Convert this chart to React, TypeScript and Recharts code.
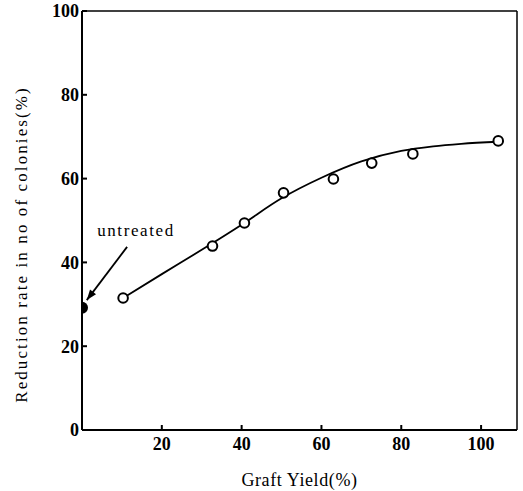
import { ComposedChart, Line, Scatter, XAxis, YAxis, ReferenceLine, ReferenceDot, Label } from "recharts";

// measured points (graft yield %, reduction rate %)
const graftYield = [10.3, 32.7, 40.7, 50.5, 63, 72.6, 82.9, 104.3];
const reduction = [31.5, 43.9, 49.4, 56.6, 59.9, 63.7, 65.9, 69];

// hand-drawn fit curve
const fitX = [10.3, 20, 30, 40, 50, 60, 70, 80, 88, 95, 104.3];
const fitY = [31.5, 37.2, 43, 49, 55.3, 60.2, 64.1, 66.6, 67.7, 68.3, 68.8];

const untreatedX = [0];
const untreatedY = [29.2];

const xTicks = [20, 40, 60, 80, 100];
const yTicks = [0, 20, 40, 60, 80, 100];

const measured = graftYield.map((x, i) => ({ x, y: reduction[i] }));
const fit = fitX.map((x, i) => ({ x, y: fitY[i] }));
const untreated = untreatedX.map((x, i) => ({ x, y: untreatedY[i] }));

const font = "'Liberation Serif', 'DejaVu Serif', serif";

function Arrow(props: any) {
  const { x1, y1, x2, y2 } = props;
  if (x1 == null) return null;
  const ang = Math.atan2(y2 - y1, x2 - x1);
  const len = 11;
  const w = 0.35;
  const p1 = `${x2 - len * Math.cos(ang - w)},${y2 - len * Math.sin(ang - w)}`;
  const p2 = `${x2 - len * Math.cos(ang + w)},${y2 - len * Math.sin(ang + w)}`;
  return (
    <g>
      <line x1={x1} y1={y1} x2={x2} y2={y2} stroke="#000" strokeWidth={1.8} />
      <polygon points={`${x2},${y2} ${p1} ${p2}`} fill="#000" />
    </g>
  );
}

function YTitle(props: any) {
  const vb = props.viewBox || { x: 0, y: 11, width: 82, height: 419 };
  // the axis box is 82px wide; the title sits near its left edge
  const cx = vb.width > 20 ? vb.x + 21 : vb.x - 61;
  const cy = vb.y + vb.height / 2 + 24;
  return (
    <text
      x={cx}
      y={cy}
      transform={`rotate(-90, ${cx}, ${cy})`}
      textAnchor="middle"
      dominantBaseline="central"
      fill="#000"
      fontSize={17}
      fontFamily={font}
      letterSpacing={2.1}
    >
      Reduction rate in no of colonies(%)
    </text>
  );
}

export default function App() {
  return (
    <div style={{ position: "absolute", left: 0, top: 0, background: "#fff" }}>
      <ComposedChart width={523} height={491} margin={{ top: 11, right: 6, bottom: 0, left: 0 }}>
        <XAxis
          type="number"
          dataKey="x"
          domain={[0, 109]}
          ticks={xTicks}
          height={61}
          allowDataOverflow
          stroke="#000"
          strokeWidth={2}
          tickSize={-5}
          tickMargin={12}
          tick={{ fill: "#000", fontSize: 18, fontFamily: font, fontWeight: "bold" }}
        >
          <Label
            value="Graft Yield(%)"
            position="insideBottom"
            offset={5}
            fill="#000"
            fontSize={18}
            fontFamily={font}
            letterSpacing={0.6}
          />
        </XAxis>
        <YAxis
          type="number"
          dataKey="y"
          domain={[0, 100]}
          ticks={yTicks}
          width={82}
          stroke="#000"
          strokeWidth={2}
          tickSize={-5}
          tickMargin={8}
          tick={{ fill: "#000", fontSize: 18, fontFamily: font, fontWeight: "bold" }}
        >
          <Label content={YTitle} />
        </YAxis>
        <ReferenceLine y={100} stroke="#000" strokeWidth={1.5} />
        <ReferenceLine x={109} stroke="#000" strokeWidth={1.5} />
        <Line
          data={fit}
          dataKey="y"
          type="monotone"
          stroke="#000"
          strokeWidth={1.8}
          dot={false}
          isAnimationActive={false}
        />
        <Scatter
          data={measured}
          dataKey="y"
          fill="#fff"
          stroke="#000"
          strokeWidth={2}
          shape={(p: any) => <circle cx={p.cx} cy={p.cy} r={4.8} fill="#fff" stroke="#000" strokeWidth={2} />}
          isAnimationActive={false}
        />
        <Scatter
          data={untreated}
          dataKey="y"
          fill="#000"
          shape={(p: any) => <circle cx={p.cx} cy={p.cy} r={6} fill="#000" />}
          isAnimationActive={false}
        />
        <ReferenceLine
          segment={[{ x: 11.3, y: 43.7 }, { x: 1.2, y: 31 }]}
          shape={Arrow}
          ifOverflow="visible"
        />
        <ReferenceDot x={3.8} y={47.8} r={0} ifOverflow="visible">
          <Label
            value="untreated"
            position="right"
            offset={0}
            fill="#000"
            fontSize={17}
            fontFamily={font}
            letterSpacing={1.6}
          />
        </ReferenceDot>
      </ComposedChart>
    </div>
  );
}
